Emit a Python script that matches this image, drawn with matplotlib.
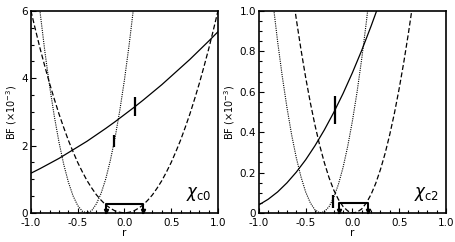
import matplotlib
matplotlib.use('Agg')
import matplotlib.pyplot as plt
import matplotlib.ticker as ticker

plt.rcParams.update({
    'font.family': 'DejaVu Sans',
    'font.size': 7.5,
    'mathtext.fontset': 'dejavusans',
    'xtick.direction': 'in',
    'ytick.direction': 'in',
    'xtick.major.size': 3.5,
    'ytick.major.size': 3.5,
    'xtick.minor.size': 2,
    'ytick.minor.size': 2,
    'axes.linewidth': 1.2,
})

# chi_c0 panel
r_solid0 = [-1.0, -0.9, -0.8, -0.7, -0.6, -0.5, -0.4, -0.3, -0.2, -0.1, 0.0,
            0.1, 0.2, 0.3, 0.4, 0.5, 0.6, 0.7, 0.8, 0.9, 1.0]
bf_solid0 = [1.18, 1.32, 1.47, 1.62, 1.79, 1.96, 2.13, 2.32, 2.51, 2.71, 2.92,
             3.13, 3.35, 3.58, 3.81, 4.06, 4.31, 4.56, 4.83, 5.10, 5.38]
r_dash0 = [-1.0, -0.95, -0.9, -0.85, -0.8, -0.75, -0.7, -0.65, -0.6, -0.55, -0.5,
           -0.45, -0.4, -0.35, -0.3, -0.25, -0.2, -0.15, -0.1, -0.05, 0.0,
           0.05, 0.1, 0.15, 0.2, 0.25, 0.3, 0.35, 0.4, 0.45, 0.5,
           0.55, 0.6, 0.65, 0.7, 0.75, 0.8, 0.85, 0.9, 0.95, 1.0]
bf_dash0 = [6.00, 5.42, 4.86, 4.34, 3.84, 3.38, 2.94, 2.54, 2.16, 1.82, 1.50,
            1.22, 0.96, 0.74, 0.54, 0.38, 0.24, 0.14, 0.06, 0.02, 0.00,
            0.02, 0.06, 0.14, 0.24, 0.38, 0.54, 0.74, 0.96, 1.22, 1.50,
            1.82, 2.16, 2.54, 2.94, 3.38, 3.84, 4.34, 4.86, 5.42, 6.00]
r_dot0 = [-0.95, -0.9, -0.85, -0.8, -0.75, -0.7, -0.65, -0.6, -0.55, -0.5, -0.45,
          -0.4, -0.35, -0.3, -0.25, -0.2, -0.15, -0.1, -0.05, 0.0, 0.05, 0.1, 0.15]
bf_dot0 = [7.16, 5.91, 4.77, 3.76, 2.87, 2.10, 1.45, 0.92, 0.51, 0.22, 0.05,
           0.00, 0.07, 0.27, 0.58, 1.01, 1.57, 2.24, 3.04, 3.95, 4.99, 6.15, 7.42]
meas0 = [(0.11, 2.88, 3.45), (-0.11, 1.95, 2.31)]
box0 = (-0.20, 0.20, 0.27)

# chi_c2 panel
r_solid2 = [-1.0, -0.9, -0.8, -0.7, -0.6, -0.5, -0.4, -0.3, -0.2, -0.1, 0.0,
            0.1, 0.2, 0.3]
bf_solid2 = [0.040, 0.068, 0.104, 0.149, 0.202, 0.263, 0.333, 0.411, 0.497,
             0.591, 0.694, 0.805, 0.925, 1.052]
r_dot2 = [-0.9, -0.85, -0.8, -0.75, -0.7, -0.65, -0.6, -0.55, -0.5, -0.45, -0.4,
          -0.35, -0.3, -0.25, -0.2, -0.15, -0.1, -0.05, 0.0, 0.05, 0.1, 0.15, 0.2]
bf_dot2 = [1.257, 1.043, 0.849, 0.676, 0.522, 0.387, 0.273, 0.179, 0.104, 0.050,
           0.015, 0.001, 0.006, 0.031, 0.076, 0.141, 0.225, 0.330, 0.455, 0.599,
           0.764, 0.948, 1.152]
r_dash2 = [-0.65, -0.6, -0.55, -0.5, -0.45, -0.4, -0.35, -0.3, -0.25, -0.2, -0.15,
           -0.1, -0.05, 0.0, 0.05, 0.1, 0.15, 0.2, 0.25, 0.3, 0.35, 0.4, 0.45,
           0.5, 0.55, 0.6, 0.65]
bf_dash2 = [1.123, 0.959, 0.809, 0.671, 0.546, 0.434, 0.335, 0.249, 0.175, 0.114,
            0.067, 0.032, 0.010, 0.000, 0.004, 0.020, 0.050, 0.092, 0.147, 0.215,
            0.295, 0.389, 0.495, 0.615, 0.747, 0.892, 1.049]
meas2 = [(-0.19, 0.44, 0.58), (-0.21, 0.025, 0.09)]
box2 = (-0.14, 0.17, 0.05)

fig = plt.figure(figsize=(4.55, 2.42), dpi=100)
ax0 = fig.add_axes([0.068, 0.12, 0.411, 0.835])
ax2 = fig.add_axes([0.569, 0.12, 0.411, 0.835])


def draw(ax, rs, bs, rd, bd, rt, bt, meas, box, ymax, ymajor, yminor, label):
    ax.plot(rs, bs, color='black', lw=0.9)
    ax.plot(rd, bd, color='black', lw=0.9, linestyle=(0, (4, 2)))
    ax.plot(rt, bt, color='black', lw=0.8, linestyle=(0, (1, 1)))
    for r, lo, hi in meas:
        ax.plot([r, r], [lo, hi], color='black', lw=1.6, solid_capstyle='butt')
    x0, x1, h = box
    ax.plot([x0, x0, x1, x1], [0, h, h, 0], color='black', lw=1.5, clip_on=False)
    ax.plot([x0, x1], [0.012 * ymax, 0.012 * ymax], linestyle='none', marker='v',
            color='black', markersize=3, clip_on=False)
    ax.set_xlim(-1, 1)
    ax.set_ylim(0, ymax)
    ax.set_xticks([-1.0, -0.5, 0.0, 0.5, 1.0])
    ax.xaxis.set_minor_locator(ticker.MultipleLocator(0.1))
    ax.yaxis.set_major_locator(ticker.MultipleLocator(ymajor))
    ax.yaxis.set_minor_locator(ticker.MultipleLocator(yminor))
    ax.xaxis.set_major_formatter(ticker.FormatStrFormatter('%.1f'))
    ax.tick_params(which='both', top=False, right=False, width=0.8)
    ax.tick_params(axis='x', pad=3.5)
    ax.tick_params(axis='y', pad=2)
    ax.set_xlabel('r', labelpad=0)
    ax.set_ylabel(r'BF ($\times$10$^{-3}$)', fontsize=7, labelpad=2)
    ax.text(0.965, 0.05, label, transform=ax.transAxes, ha='right', va='bottom',
            fontsize=12)


draw(ax0, r_solid0, bf_solid0, r_dash0, bf_dash0, r_dot0, bf_dot0, meas0, box0,
     6, 2, 0.5, r'$\chi_{\mathrm{c0}}$')
ax0.yaxis.set_major_formatter(ticker.FormatStrFormatter('%d'))

draw(ax2, r_solid2, bf_solid2, r_dash2, bf_dash2, r_dot2, bf_dot2, meas2, box2,
     1.0, 0.2, 0.05, r'$\chi_{\mathrm{c2}}$')
ax2.yaxis.set_major_formatter(ticker.FuncFormatter(lambda v, p: '0' if v == 0 else f'{v:.1f}'))

plt.savefig('out.png', dpi=100)
